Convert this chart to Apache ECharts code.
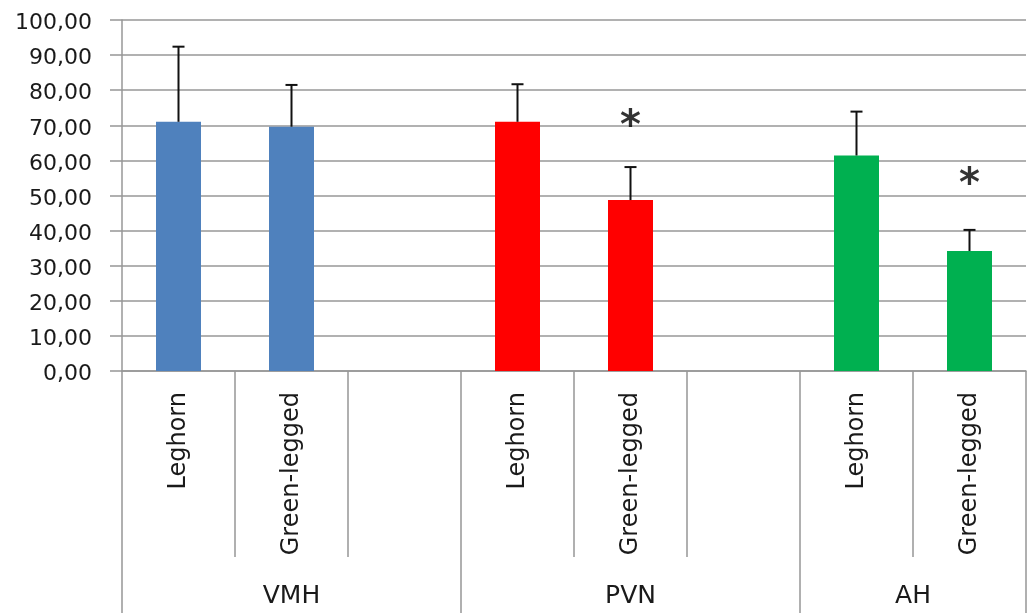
<!DOCTYPE html>
<html>
<head>
<meta charset="utf-8">
<script src="https://cdn.jsdelivr.net/npm/echarts@6/dist/echarts.min.js"></script>
<style>
  html, body { margin: 0; padding: 0; background: #fff; }
  #chart { width: 1032px; height: 613px; }
</style>
</head>
<body>
<div id="chart"></div>
<script>
// Breeds per brain region; an empty slot separates the regions
const categories = ['Leghorn', 'Green-legged', '', 'Leghorn', 'Green-legged', '', 'Leghorn', 'Green-legged'];
const regions = ['VMH', 'PVN', 'AH'];
const regionSlots = [3, 3, 2];
const means = [71.0, 69.6, null, 71.0, 48.7, null, 61.4, 34.2];
const sd = [21.4, 11.9, null, 10.7, 9.4, null, 12.5, 6.0];
const regionColors = ['#4f81bd', '#ff0000', '#00b050'];
// significance markers: [slot index, height]
const significance = [[4, 71.5], [7, 55.0]];
const yTicks = [0, 10, 20, 30, 40, 50, 60, 70, 80, 90, 100];

const FONT = 'DejaVu Sans';
const GRID_COLOR = '#979797';

// region boundaries and centres in slot units
const bounds = [0];
regionSlots.forEach(n => bounds.push(bounds[bounds.length - 1] + n));
const centers = regionSlots.map((n, i) => bounds[i] + n / 2);

// colour of each slot follows its region
const slotColor = [];
regionSlots.forEach((n, i) => { for (let k = 0; k < n; k++) slotColor.push(regionColors[i]); });

const barData = means.map((v, i) => v == null ? '-' : { value: v, itemStyle: { color: slotColor[i] } });
const errData = [];
means.forEach((v, i) => { if (v != null) errData.push([i, v, v + sd[i]]); });

const chart = echarts.init(document.getElementById('chart'), null, { renderer: 'canvas' });
chart.setOption({
  animation: false,
  backgroundColor: '#ffffff',
  grid: { left: 122, right: 6, top: 20, bottom: 242, containLabel: false },
  xAxis: [
    {
      type: 'category',
      data: categories,
      boundaryGap: true,
      position: 'bottom',
      axisLine: { show: true, lineStyle: { color: GRID_COLOR, width: 1.5 } },
      axisTick: { show: true, interval: 0, length: 186, lineStyle: { color: GRID_COLOR, width: 1.5 } },
      axisLabel: {
        interval: 0, rotate: 90, margin: 21,
        fontFamily: FONT, fontSize: 24, color: '#1a1a1a'
      },
      splitLine: { show: false }
    },
    {
      type: 'value',
      min: 0, max: bounds[bounds.length - 1],
      position: 'bottom',
      axisLine: { show: false },
      axisTick: { show: true, customValues: bounds, length: 242, lineStyle: { color: GRID_COLOR, width: 1.5 } },
      axisLabel: {
        show: true, customValues: centers, margin: 213,
        formatter: v => regions[centers.indexOf(v)] || '',
        fontFamily: FONT, fontSize: 25, color: '#1a1a1a'
      },
      splitLine: { show: false }
    }
  ],
  yAxis: {
    type: 'value',
    min: yTicks[0], max: yTicks[yTicks.length - 1], interval: 10,
    axisLine: { show: true, lineStyle: { color: GRID_COLOR, width: 1.5 } },
    axisTick: { show: true, length: 12, lineStyle: { color: GRID_COLOR, width: 1.5 } },
    axisLabel: {
      margin: 30, verticalAlign: 'top', lineHeight: 7,
      formatter: v => v.toFixed(2).replace('.', ','),
      fontFamily: FONT, fontSize: 22, color: '#1a1a1a'
    },
    splitLine: { show: true, lineStyle: { color: GRID_COLOR, width: 1.5 } }
  },
  series: [
    {
      type: 'bar',
      xAxisIndex: 0,
      data: barData,
      barWidth: 45,
      itemStyle: { borderWidth: 0 }
    },
    {
      type: 'custom',
      xAxisIndex: 0,
      data: errData,
      z: 5,
      renderItem: (params, api) => {
        const base = api.coord([api.value(0), api.value(1)]);
        const top = api.coord([api.value(0), api.value(2)]);
        const style = { stroke: '#111', lineWidth: 2 };
        return {
          type: 'group',
          children: [
            { type: 'line', shape: { x1: base[0], y1: base[1], x2: top[0], y2: top[1] }, style },
            { type: 'line', shape: { x1: top[0] - 6, y1: top[1], x2: top[0] + 6, y2: top[1] }, style }
          ]
        };
      }
    },
    {
      type: 'scatter',
      xAxisIndex: 0,
      data: significance,
      symbolSize: 0,
      z: 6,
      label: {
        show: true, position: 'inside', formatter: '*',
        fontFamily: FONT, fontSize: 40, fontWeight: 'bold', color: '#000', offset: [0, 8]
      }
    }
  ]
});
</script>
</body>
</html>
